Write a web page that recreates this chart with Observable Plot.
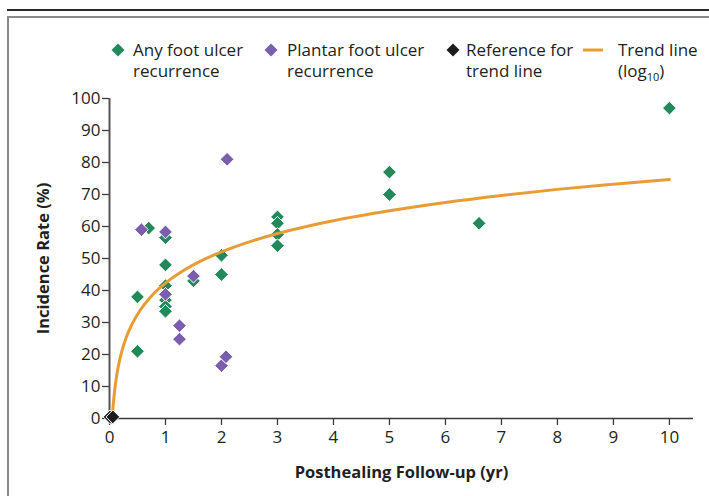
<!DOCTYPE html>
<html><head><meta charset="utf-8">
<script src="https://cdn.jsdelivr.net/npm/d3@7"></script>
<script src="https://cdn.jsdelivr.net/npm/@observablehq/plot@0.6"></script>
<style>
html,body{margin:0;padding:0;background:#fff;}
#wrap{position:relative;width:709px;height:496px;overflow:hidden;font-family:"Open Sans",sans-serif;color:#231f20;}
#topline{position:absolute;left:7px;top:9px;width:710px;height:2px;background:#2a2a2a;}
#box{position:absolute;left:7px;top:16px;width:720px;height:520px;border-top:2px solid #8a8a8a;border-left:2px solid #8a8a8a;}
#chart{position:absolute;left:0;top:0;}
.leg{position:absolute;font-size:17px;line-height:21px;white-space:nowrap;}
.sym{position:absolute;}
</style>
</head><body>
<div id="wrap">
  <div id="topline"></div>
  <div id="box"></div>
  <div id="chart"></div>
  <div id="legend"></div>
</div>
<script>
// ---- data ----
const anyX = [0.5, 0.5, 0.7, 1, 1, 1, 1, 1, 1, 1.5, 2, 2, 3, 3, 3, 3, 5, 5, 6.6, 10];
const anyY = [38, 21, 59.5, 56.5, 48, 41.5, 37, 35, 33.5, 43, 51, 45, 63, 61, 57.5, 54, 77, 70, 61, 97];
const plantarX = [0.57, 1, 1, 1.25, 1.25, 1.5, 2.1, 2, 2.08];
const plantarY = [59, 58.3, 38.8, 29, 24.8, 44.5, 81, 16.5, 19.3];
const refX = [0.01, 0.06];
const refY = [0.5, 0.5];
const trendX = [0.045, 0.06, 0.08, 0.1, 0.13, 0.17, 0.22, 0.3, 0.4, 0.55, 0.75, 1, 1.3, 1.7, 2.2, 3, 4, 5, 6, 7, 8, 9, 10];
const trendY = [-1.3, 2.7, 6.8, 9.9, 13.6, 17.4, 21.0, 25.4, 29.4, 33.9, 38.3, 42.3, 46.0, 49.8, 53.4, 57.8, 61.8, 64.9, 67.5, 69.7, 71.6, 73.2, 74.7];
const xTicks = [0, 1, 2, 3, 4, 5, 6, 7, 8, 9, 10];
const yTicks = [0, 10, 20, 30, 40, 50, 60, 70, 80, 90, 100];
const xLabel = "Posthealing Follow-up (yr)";
const yLabel = "Incidence Rate (%)";
const legendItems = [
  {kind: "diamond", color: "#23895a", lines: ["Any foot ulcer", "recurrence"]},
  {kind: "diamond", color: "#7b5eae", lines: ["Plantar foot ulcer", "recurrence"]},
  {kind: "diamond", color: "#1c1c1c", lines: ["Reference for", "trend line"]},
  {kind: "line", color: "#e89c36", lines: ["Trend line", "(log<sub style='font-size:11px'>10</sub>)"]}
];

const GREEN = "#23895a", PURPLE = "#7b5eae", BLACK = "#1c1c1c", ORANGE = "#e89c36";
const anyData = anyX.map((x, i) => ({x, y: anyY[i]}));
const plantarData = plantarX.map((x, i) => ({x, y: plantarY[i]}));
const refData = refX.map((x, i) => ({x, y: refY[i]}));
const trendData = trendX.map((x, i) => ({x, y: trendY[i]}));

const chart = Plot.plot({
  width: 709,
  height: 496,
  marginLeft: 109,
  marginRight: 16,
  marginTop: 98,
  marginBottom: 78,
  style: {fontFamily: "'Open Sans', sans-serif", fontSize: "17px", color: "#231f20", background: "transparent", overflow: "visible"},
  x: {domain: [0, 10.43]},
  y: {domain: [0, 100]},
  marks: [
    Plot.axisX({ticks: xTicks, tickSize: 7, tickPadding: 5, label: null, tickFormat: d => d, stroke: "#3a3a3a", strokeWidth: 1.3, fontSize: 17, fill: "#231f20"}),
    Plot.axisY({ticks: yTicks, tickSize: 7, tickPadding: 2, label: null, tickFormat: d => d, stroke: "#3a3a3a", strokeWidth: 1.3, fontSize: 17, fill: "#231f20"}),
    Plot.ruleY([0], {x1: 0, x2: 10.43, stroke: "#3a3a3a", strokeWidth: 1.5}),
    Plot.ruleX([0], {y1: 0, y2: 100, stroke: "#555", strokeWidth: 2}),
    Plot.dot(anyData, {x: "x", y: "y", symbol: "diamond2", r: 6.2, fill: GREEN, stroke: "white", strokeWidth: 1}),
    Plot.line(trendData, {x: "x", y: "y", stroke: ORANGE, strokeWidth: 3, curve: "monotone-x"}),
    Plot.dot(plantarData, {x: "x", y: "y", symbol: "diamond2", r: 6.2, fill: PURPLE, stroke: "white", strokeWidth: 1}),
    Plot.dot(refData, {x: "x", y: "y", symbol: "diamond2", r: 6.2, fill: BLACK, stroke: "white", strokeWidth: 1}),
    Plot.text([xLabel], {frameAnchor: "bottom", dy: 54, lineAnchor: "middle", fontWeight: "bold", fontSize: 16.5, fill: "#231f20"}),
    Plot.text([yLabel], {frameAnchor: "left", dx: -66, rotate: -90, textAnchor: "middle", lineAnchor: "middle", fontWeight: "bold", fontSize: 16.5, fill: "#231f20"})
  ]
});
document.getElementById("chart").appendChild(chart);

// legend
const legPos = [
  {sx: 118, tx: 133},
  {sx: 271, tx: 287},
  {sx: 453, tx: 466},
  {sx: 593, tx: 618}
];
const legend = document.getElementById("legend");
legendItems.forEach((it, i) => {
  const p = legPos[i];
  const s = document.createElementNS("http://www.w3.org/2000/svg", "svg");
  s.setAttribute("class", "sym");
  s.setAttribute("width", 24); s.setAttribute("height", 16);
  s.style.left = (p.sx - 12) + "px"; s.style.top = (50 - 8) + "px";
  if (it.kind === "diamond") {
    s.innerHTML = `<path d="M12,1.5L18.5,8L12,14.5L5.5,8Z" fill="${it.color}"/>`;
  } else {
    s.innerHTML = `<line x1="2" x2="22" y1="8" y2="8" stroke="${it.color}" stroke-width="3"/>`;
  }
  legend.appendChild(s);
  const d = document.createElement("div");
  d.className = "leg";
  d.style.left = p.tx + "px"; d.style.top = "39px";
  d.innerHTML = it.lines.join("<br>");
  legend.appendChild(d);
});
</script>
</body></html>
